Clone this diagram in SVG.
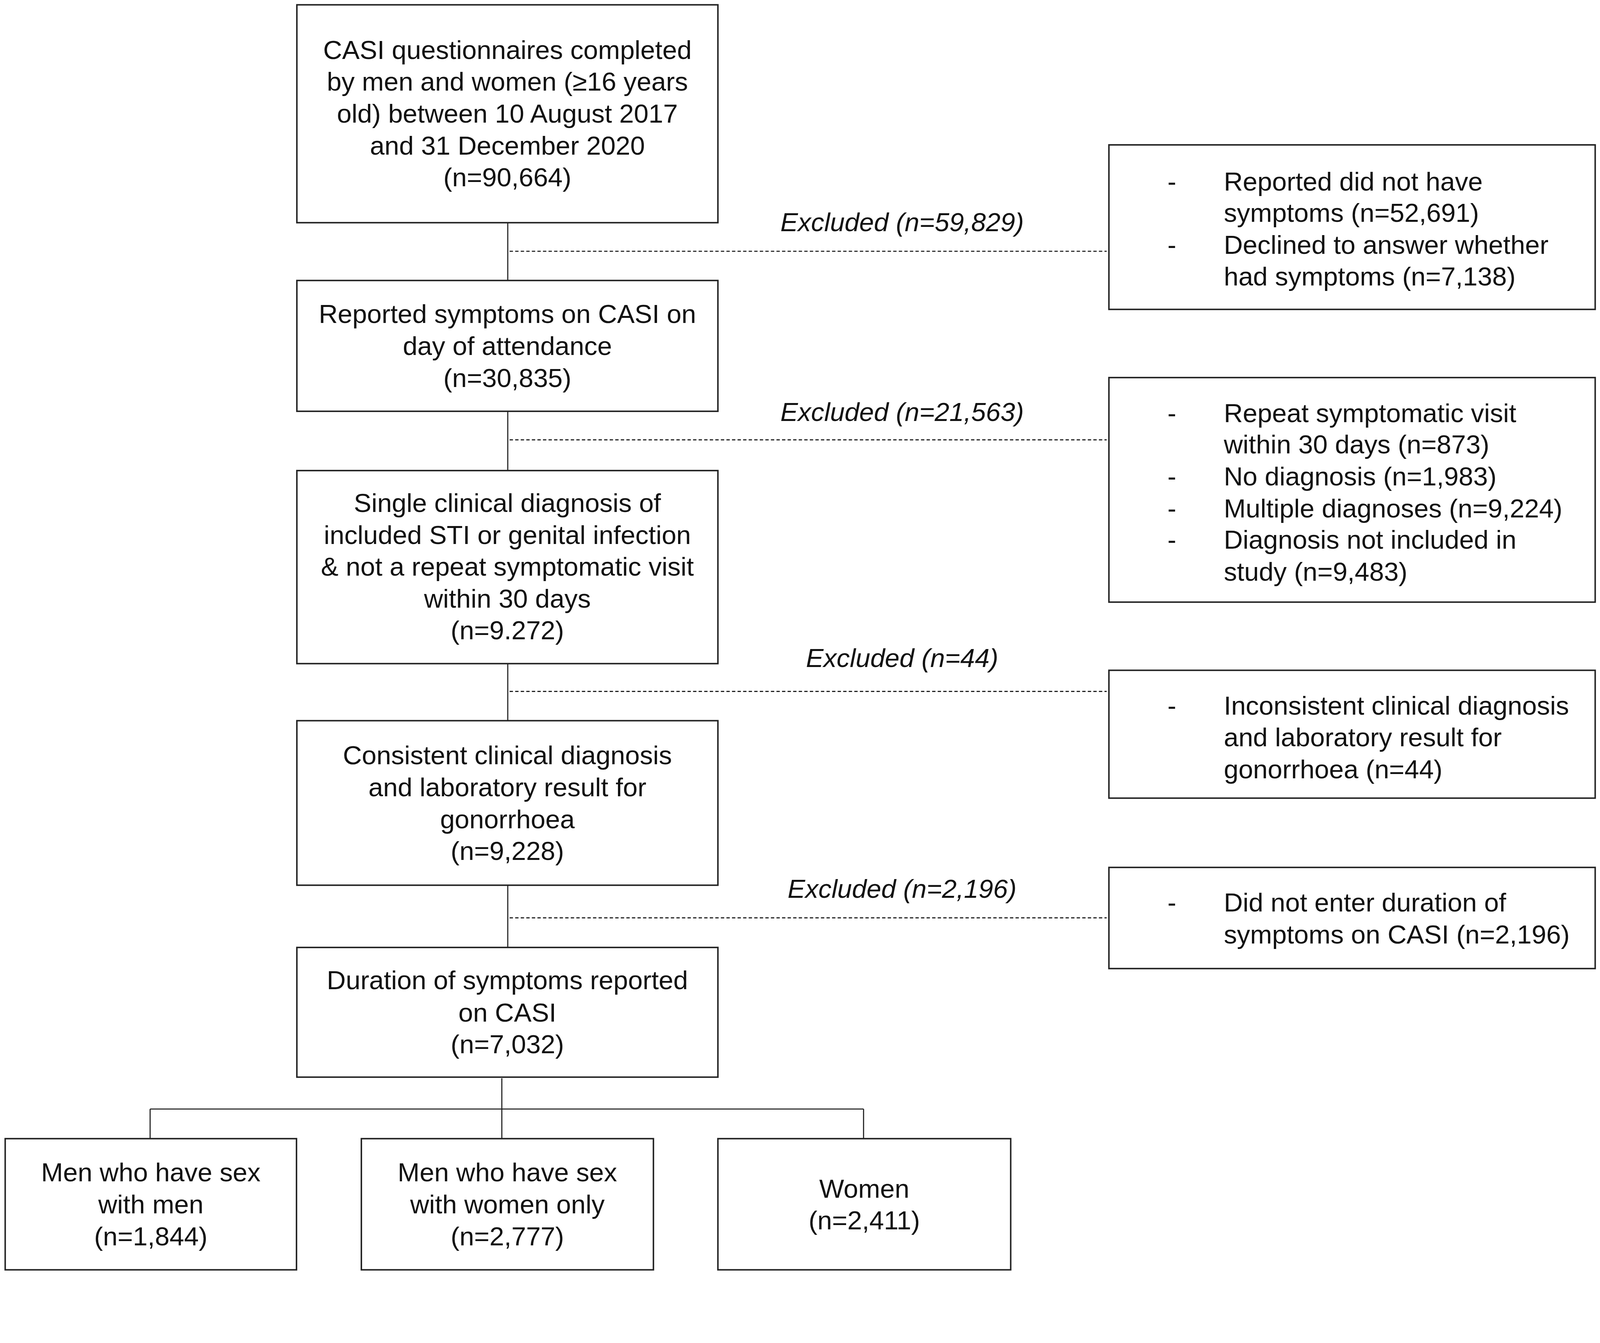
<svg xmlns="http://www.w3.org/2000/svg" width="4317" height="3439" viewBox="0 0 4317 3439">
<style>
svg{max-width:100vw;height:auto}
.box{fill:#fff;stroke:#222;stroke-width:4}
.t{font-family:"Liberation Sans",Arial,sans-serif;font-size:71px;fill:#111}
.c{text-anchor:middle}
.i{font-style:italic}
.ln{stroke:#222;stroke-width:3;fill:none}
.dl{stroke:#222;stroke-width:3;fill:none;stroke-dasharray:9 6}
</style>
<rect width="4317" height="3439" fill="#fff"/>
<g id="connectors">
<line class="ln" x1="1370" y1="601" x2="1370" y2="757"/>
<line class="ln" x1="1370" y1="1110" x2="1370" y2="1270"/>
<line class="ln" x1="1370" y1="1791" x2="1370" y2="1945"/>
<line class="ln" x1="1370" y1="2389" x2="1370" y2="2557"/>
<line class="dl" x1="1375" y1="678" x2="2986" y2="678"/>
<line class="dl" x1="1375" y1="1187" x2="2986" y2="1187"/>
<line class="dl" x1="1375" y1="1866" x2="2986" y2="1866"/>
<line class="dl" x1="1375" y1="2477" x2="2986" y2="2477"/>
<line class="ln" x1="1354" y1="2910" x2="1354" y2="3073"/>
<line class="ln" x1="405" y1="2993" x2="2330" y2="2993"/>
<line class="ln" x1="405" y1="2993" x2="405" y2="3073"/>
<line class="ln" x1="2330" y1="2993" x2="2330" y2="3073"/>
<text class="t c i" x="2434" y="624">Excluded (n=59,829)</text>
<text class="t c i" x="2434" y="1136">Excluded (n=21,563)</text>
<text class="t c i" x="2434" y="1800">Excluded (n=44)</text>
<text class="t c i" x="2434" y="2423">Excluded (n=2,196)</text>
</g>
<g id="n1">
<rect class="box" x="801" y="13" width="1136" height="588"/>
<text class="t c" x="1369"><tspan x="1369" y="159">CASI questionnaires completed</tspan><tspan x="1369" y="245">by men and women (≥16 years</tspan><tspan x="1369" y="331">old) between 10 August 2017</tspan><tspan x="1369" y="417">and 31 December 2020</tspan><tspan x="1369" y="503">(n=90,664)</tspan></text>
</g>
<g id="n2">
<rect class="box" x="801" y="757" width="1136" height="353"/>
<text class="t c"><tspan x="1369" y="872">Reported symptoms on CASI on</tspan><tspan x="1369" y="958">day of attendance</tspan><tspan x="1369" y="1044">(n=30,835)</tspan></text>
</g>
<g id="n3">
<rect class="box" x="801" y="1270" width="1136" height="521"/>
<text class="t c"><tspan x="1369" y="1382">Single clinical diagnosis of</tspan><tspan x="1369" y="1468">included STI or genital infection</tspan><tspan x="1369" y="1554">&amp; not a repeat symptomatic visit</tspan><tspan x="1369" y="1640">within 30 days</tspan><tspan x="1369" y="1725">(n=9.272)</tspan></text>
</g>
<g id="n4">
<rect class="box" x="801" y="1945" width="1136" height="444"/>
<text class="t c"><tspan x="1369" y="2063">Consistent clinical diagnosis</tspan><tspan x="1369" y="2149">and laboratory result for</tspan><tspan x="1369" y="2235">gonorrhoea</tspan><tspan x="1369" y="2321">(n=9,228)</tspan></text>
</g>
<g id="n5">
<rect class="box" x="801" y="2557" width="1136" height="350"/>
<text class="t c"><tspan x="1369" y="2670">Duration of symptoms reported</tspan><tspan x="1369" y="2757">on CASI</tspan><tspan x="1369" y="2843">(n=7,032)</tspan></text>
</g>
<g id="n6">
<rect class="box" x="14" y="3073" width="786" height="354"/>
<text class="t c"><tspan x="407" y="3188">Men who have sex</tspan><tspan x="407" y="3275">with men</tspan><tspan x="407" y="3361">(n=1,844)</tspan></text>
</g>
<g id="n7">
<rect class="box" x="975" y="3073" width="788" height="354"/>
<text class="t c"><tspan x="1369" y="3188">Men who have sex</tspan><tspan x="1369" y="3275">with women only</tspan><tspan x="1369" y="3361">(n=2,777)</tspan></text>
</g>
<g id="n8">
<rect class="box" x="1937" y="3073" width="790" height="354"/>
<text class="t c"><tspan x="2332" y="3232">Women</tspan><tspan x="2332" y="3318">(n=2,411)</tspan></text>
</g>
<g id="r1">
<rect class="box" x="2992" y="391" width="1312" height="444"/>
<text class="t"><tspan x="3150" y="514">-</tspan><tspan x="3302" y="514">Reported did not have</tspan><tspan x="3302" y="599">symptoms (n=52,691)</tspan><tspan x="3150" y="685">-</tspan><tspan x="3302" y="685">Declined to answer whether</tspan><tspan x="3302" y="770">had symptoms (n=7,138)</tspan></text>
</g>
<g id="r2">
<rect class="box" x="2992" y="1019" width="1312" height="606"/>
<text class="t"><tspan x="3150" y="1139">-</tspan><tspan x="3302" y="1139">Repeat symptomatic visit</tspan><tspan x="3302" y="1224">within 30 days (n=873)</tspan><tspan x="3150" y="1310">-</tspan><tspan x="3302" y="1310">No diagnosis (n=1,983)</tspan><tspan x="3150" y="1396">-</tspan><tspan x="3302" y="1396">Multiple diagnoses (n=9,224)</tspan><tspan x="3150" y="1481">-</tspan><tspan x="3302" y="1481">Diagnosis not included in</tspan><tspan x="3302" y="1567">study (n=9,483)</tspan></text>
</g>
<g id="r3">
<rect class="box" x="2992" y="1809" width="1312" height="345"/>
<text class="t"><tspan x="3150" y="1929">-</tspan><tspan x="3302" y="1929">Inconsistent clinical diagnosis</tspan><tspan x="3302" y="2014">and laboratory result for</tspan><tspan x="3302" y="2100">gonorrhoea (n=44)</tspan></text>
</g>
<g id="r4">
<rect class="box" x="2992" y="2341" width="1312" height="273"/>
<text class="t"><tspan x="3150" y="2460">-</tspan><tspan x="3302" y="2460">Did not enter duration of</tspan><tspan x="3302" y="2546">symptoms on CASI (n=2,196)</tspan></text>
</g>
</svg>
